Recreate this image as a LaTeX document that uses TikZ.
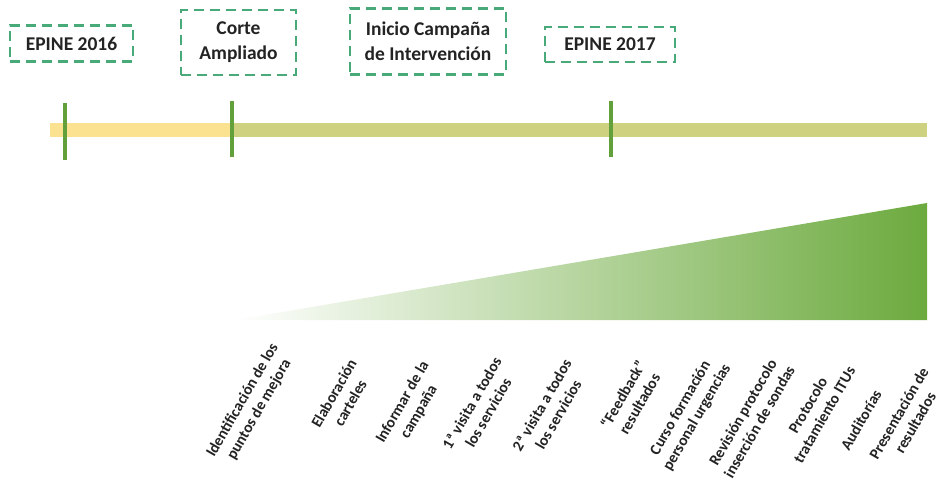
\documentclass[tikz,border=0pt]{standalone}
\usepackage{fontspec}
\setmainfont{Carlito}
\definecolor{boxgreen}{RGB}{72,170,120}
\definecolor{tickgreen}{RGB}{98,160,60}
\definecolor{baryellow}{RGB}{250,226,145}
\definecolor{barolive}{RGB}{206,210,128}
\definecolor{triggreen}{RGB}{108,170,62}
\definecolor{txt}{RGB}{35,35,35}
\begin{document}
\begin{tikzpicture}[x=1pt,y=-1pt,
  evbox/.style={draw=boxgreen,line width=2.2pt,dash pattern=on 10pt off 6pt,
    align=center,font=\bfseries\fontsize{19.5}{25}\selectfont,text=txt,
    inner sep=0pt},
  lbl/.style={rotate=60,align=center,font=\bfseries\fontsize{15.5}{19}\selectfont,
    text=txt,inner sep=0pt},
  tick/.style={draw=tickgreen,line width=3.5pt}]
\useasboundingbox (0,0) rectangle (940,484);
% event boxes
\node[evbox,minimum width=123pt,minimum height=36pt] (b1) at (71.5,43.5) {EPINE 2016};
\node[evbox,minimum width=115pt,minimum height=65pt] (b2) at (238.5,42.5) {Corte\\Ampliado};
\node[evbox,minimum width=156pt,minimum height=66pt] (b3) at (428,41.5) {Inicio Campaña\\de Intervención};
\node[evbox,minimum width=130pt,minimum height=35pt] (b4) at (610,44.5) {EPINE 2017};
% timeline bar
\fill[baryellow] (50,123) rectangle (232,137);
\fill[barolive] (232,123) rectangle (927,137);
% ticks
\coordinate (t1a) at (65,103); \coordinate (t1b) at (65,160);
\coordinate (t2a) at (232,101); \coordinate (t2b) at (232,157);
\coordinate (t3a) at (611,101); \coordinate (t3b) at (611,157);
\draw[tick] (t1a) -- (t1b);
\draw[tick] (t2a) -- (t2b);
\draw[tick] (t3a) -- (t3b);
% gradient triangle
\shade[left color=white,right color=triggreen] (235,320) -- (927,320) -- (927,203) -- cycle;
% labels
\node[lbl] (l1) at (251,405) {Identificación de los\\puntos de mejora};
\node[lbl] (l2) at (342,398) {Elaboración\\carteles};
\node[lbl] (l3) at (411,407) {Informar de la\\campaña};
\node[lbl] (l4) at (480,408) {1ª visita a  todos\\los servicios};
\node[lbl] (l5) at (550,410) {2ª visita a  todos\\los servicios};
\node[lbl] (l6) at (631,399) {“Feedback”\\resultados};
\node[lbl] (l7) at (689,413) {Curso formación\\personal urgencias};
\node[lbl] (l8) at (751,417) {Revisión protocolo\\inserción de sondas};
\node[lbl] (l9) at (816,410) {Protocolo\\tratamiento ITUs};
\node[lbl] (l10) at (861,420) {Auditorías};
\node[lbl] (l11) at (907,418) {Presentación de\\resultados};
\end{tikzpicture}
\end{document}
